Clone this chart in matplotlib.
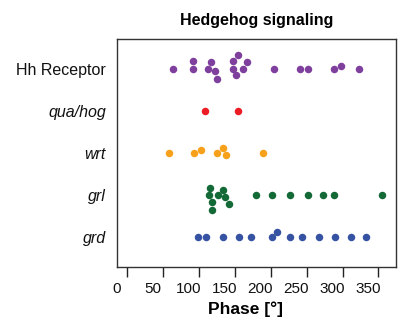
import numpy as np
import matplotlib
matplotlib.use("Agg")
import matplotlib.pyplot as plt
from matplotlib.transforms import ScaledTranslation

plt.rcParams["font.family"] = ["Liberation Sans", "DejaVu Sans"]

# Peak phases (degrees) of Hedgehog pathway genes
genes = ["Hh Receptor", "qua/hog", "wrt", "grl", "grd"]
italic = [False, True, True, True, True]
colors = ["#7E3F9D", "#EC1C24", "#F7A11A", "#136A36", "#3652A3"]

hh_receptor = [64, 92, 92, 112, 117, 122, 125, 147, 147, 152, 154, 161, 167,
               205, 241, 252, 288, 298, 323]
qua_hog = [108, 154]
wrt = [58, 93, 103, 125, 133, 137, 189]
grl = [113.6, 115.6, 117.5, 118.5, 125.7, 133, 136, 142, 179, 202, 226, 252,
       273, 288, 355]
grd = [99, 110, 133, 155, 173, 202, 209, 227, 243, 267, 290, 312, 332]

phases = [hh_receptor, qua_hog, wrt, grl, grd]

xticks = [0, 50, 100, 150, 200, 250, 300, 350]

fig = plt.figure(figsize=(3.98, 3.23), dpi=100)
ax = fig.add_axes([117 / 398, 1 - 267 / 323, 279 / 398, 228 / 323])
ax.set_xlim(-14.4, 374.4)
ax.set_ylim(0.3, 5.7)

MS = 5.4              # marker size in points
DIAM = 7.7            # spacing between stacked points in pixels


def swarm(xs_pix):
    """Beeswarm offsets (pixels) for points sorted by value."""
    order = np.argsort(xs_pix, kind="stable")
    placed = []
    offs = np.zeros(len(xs_pix))
    for i in order:
        x = xs_pix[i]
        cands = [0.0]
        for (px, py) in placed:
            dx = abs(x - px)
            if dx < DIAM:
                dy = np.sqrt(DIAM ** 2 - dx ** 2)
                cands += [py + dy, py - dy]
        best = None
        for c in sorted(cands, key=lambda v: (round(abs(v), 6), -v)):
            if all((x - px) ** 2 + (c - py) ** 2 >= DIAM ** 2 - 1e-6
                   for (px, py) in placed):
                best = c
                break
        placed.append((x, best))
        offs[i] = best
    return offs


fig.canvas.draw()
for k, (vals, col) in enumerate(zip(phases, colors)):
    ypos = len(genes) - k
    vals = np.asarray(vals, float)
    pix = ax.transData.transform(np.column_stack([vals, np.full_like(vals, ypos)]))
    offs = swarm(pix[:, 0])
    pix[:, 1] += offs
    data = ax.transData.inverted().transform(pix)
    ax.plot(data[:, 0], data[:, 1], "o", ms=MS, color=col, mec="none", zorder=3)

for s in ax.spines.values():
    s.set_color("#333333")
    s.set_linewidth(1.0)

ax.set_yticks(range(len(genes), 0, -1))
ax.set_yticklabels(genes, fontsize=11.5)
for lab, it in zip(ax.get_yticklabels(), italic):
    if it:
        lab.set_fontstyle("italic")
ax.tick_params(axis="y", length=0, pad=8, colors="#111111")

ax.set_xticks(xticks)
ax.set_xticklabels([str(t) for t in xticks], fontsize=11)
ax.tick_params(axis="x", length=7, width=1, pad=4, color="#222222",
               labelcolor="#111111", direction="out")
# Tick labels sit slightly left of their tick marks
shift = ScaledTranslation(-10.5 / 100, 0, fig.dpi_scale_trans)
for lab in ax.get_xticklabels():
    lab.set_transform(lab.get_transform() + shift)

ax.set_xlabel("Phase [°]", fontsize=12.5, fontweight="bold", labelpad=4)
ax.xaxis.label.set_transform(ax.xaxis.label.get_transform() + shift)
ax.set_title("Hedgehog signaling", fontsize=11.5, fontweight="bold", pad=10)

fig.savefig("out.png", dpi=100)
